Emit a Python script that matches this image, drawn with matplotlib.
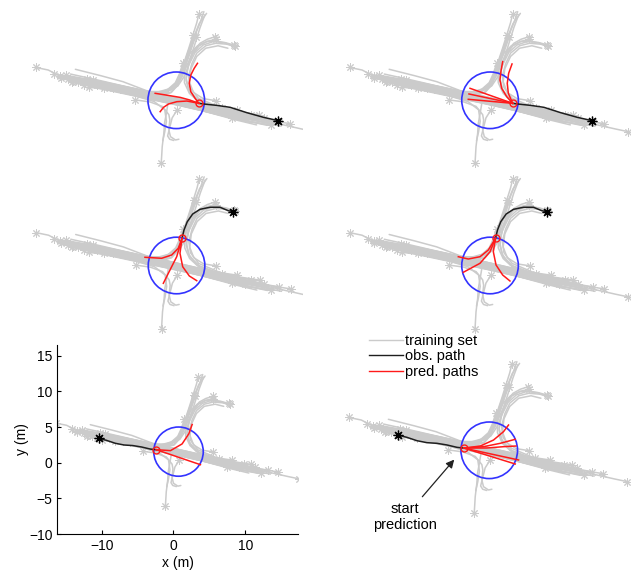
import numpy as np
import matplotlib
matplotlib.use("Agg")
import matplotlib.pyplot as plt
from matplotlib.lines import Line2D
from matplotlib.patches import Circle

# ---- data (metres); the first point of every track is its start (asterisk) ----

TRAIN_EASTBOUND = [
    [(-16.4, 5.55), (-14.9, 5.24), (-13.5, 4.51), (-11.9, 4.02), (-8, 3.2), (-4, 2.35), (0, 1.5), (4, 0.6), (8, -0.4), (11, -1.0), (12.5, -1.3)],
    [(-13.5, 4.5), (-12, 4.2), (-8, 3.4), (-4, 2.55), (0, 1.7), (4, 0.8), (8, -0.2), (11.5, -0.9)],
    [(-12.5, 4.1), (-10, 3.6), (-6, 2.75), (-2, 1.9), (2, 1.05), (6, 0.1), (9.4, -0.6)],
    [(-10.0, 3.15), (-8, 2.9), (-4, 2.1), (0, 1.25), (4, 0.35), (8, -0.7), (11.8, -1.5)],
    [(-8.1, 3.1), (-6, 2.65), (-2, 1.75), (2, 0.85), (6, -0.15), (10, -1.1), (12.2, -1.5)],
    [(-6.1, 2.9), (-4, 2.5), (0, 1.65), (4, 0.75), (8, -0.2), (10.5, -0.75)],
    [(-11.3, 3.8), (-8, 3.15), (-4, 2.3), (0, 1.45), (4, 0.55), (7, -0.2)],
    [(-13.4, 4.3), (-12, 4.0), (-8, 3.25), (-4, 2.4), (0, 1.55), (4, 0.6), (8, -0.5), (10.8, -1.05), (13.5, -1.6)],
    [(-14.2, 4.75), (-12, 4.35), (-8, 3.75), (-4, 2.9), (0, 2.0), (4, 1.0), (8, 0.0), (10.2, -0.45)],
    [(-12.0, 3.75), (-10, 3.35), (-6, 2.5), (-2, 1.6), (2, 0.75), (6, -0.25), (9.8, -1.2)],
    [(-10.6, 3.45), (-8, 2.85), (-4, 2.0), (0, 1.15), (4, 0.25), (8, -0.85), (10.5, -1.45)],
    [(-9.5, 4.0), (-6, 3.3), (-2, 2.4), (2, 1.45), (6, 0.45), (9, -0.15)],
    [(-12.8, 4.6), (-10, 4.1), (-6, 3.2), (-2, 2.3), (2, 1.3), (5, 0.6)],
]

TRAIN_WESTBOUND = [
    [(17.56, -2.28), (16, -1.95), (14, -1.5), (12, -1.05), (8, -0.2), (4, 0.8), (0, 1.8), (-3, 2.75), (-5.8, 3.82), (-8.5, 4.55), (-11.6, 5.33)],
    [(13.2, -1.06), (12, -0.85), (8, -0.05), (4, 0.9), (0, 1.8), (-4, 2.65), (-8, 3.5), (-10.5, 4.05)],
    [(11.4, -0.65), (8, 0.0), (4, 0.95), (0, 1.9), (-4, 2.8), (-7, 3.4), (-9.5, 3.95)],
    [(10.85, -0.24), (8, 0.2), (4, 1.1), (0, 2.0), (-4, 2.85), (-7, 3.45)],
    [(9.1, -0.65), (6, 0.05), (2, 1.0), (-2, 1.9), (-6, 2.75), (-10, 3.55), (-13, 4.3)],
    [(6.3, 0.57), (4, 1.0), (0, 1.9), (-4, 2.7), (-8, 3.55), (-12, 4.35)],
    [(14.6, -1.3), (12, -0.9), (8, -0.1), (4, 0.85), (0, 1.75), (-4, 2.6), (-8, 3.4), (-11, 4.05)],
    [(12.2, -1.45), (10, -1.1), (6, -0.2), (2, 0.8), (-2, 1.7), (-6, 2.6), (-10, 3.4), (-13.8, 4.35)],
    [(9.8, -0.2), (6, 0.6), (2, 1.55), (-2, 2.45), (-6, 3.35), (-9, 4.05), (-12.2, 4.75)],
    [(7.5, -0.6), (4, 0.25), (0, 1.2), (-4, 2.1), (-8, 3.0), (-10.5, 3.5)],
]

TRAIN_TURN_NORTH = [
    [(-9.0, 3.45), (-6, 2.85), (-3, 2.3), (-1.2, 2.1), (0.1, 2.5), (0.9, 3.4), (1.4, 4.6), (1.9, 6.2), (2.4, 7.8), (3.0, 9.5), (3.6, 11.0), (4.07, 12.36)],
    [(-7.0, 3.1), (-4, 2.55), (-1.5, 2.25), (0, 2.5), (0.8, 3.4), (1.3, 4.8), (1.8, 6.4), (2.3, 7.9), (2.9, 9.4), (3.5, 10.9), (4.4, 12.15)],
    [(-10.2, 4.15), (-6, 3.05), (-2.5, 2.35), (-0.6, 2.4), (0.6, 3.3), (1.2, 4.6), (1.7, 6.0), (2.4, 7.3), (3.3, 8.2), (4.4, 8.7), (5.6, 8.8), (6.8, 8.5), (7.9, 8.0)],
    [(8.1, 0.37), (5.5, 0.75), (3.5, 1.5), (2.3, 2.6), (1.9, 4.0), (2.1, 5.6), (2.6, 7.2), (3.1, 8.8), (3.6, 10.4), (4.2, 12.0)],
    [(5.57, 1.5), (4.0, 1.75), (2.8, 2.5), (2.3, 3.8), (2.5, 5.4), (3.2, 6.9), (4.3, 7.9), (5.8, 8.2), (7.0, 7.9)],
]

TRAIN_FROM_NORTH = [
    [(3.46, 12.07), (3.2, 11.0), (2.7, 9.4), (2.2, 7.8), (1.7, 6.3), (1.2, 4.7), (0.5, 3.4), (-0.6, 2.6), (-2.5, 2.25), (-6, 3.0), (-10, 3.8), (-13, 4.4)],
    [(3.05, 9.3), (2.6, 8.0), (2.1, 6.5), (1.6, 5.2), (1.0, 4.0), (0.2, 3.0), (-1, 2.45), (-3, 2.4), (-7, 3.2), (-9.5, 3.75)],
    [(1.5, 6.06), (1.1, 4.8), (0.6, 3.7), (-0.3, 2.9), (-1.8, 2.5), (-5, 2.9), (-8, 3.45)],
    [(2.8, 9.5), (2.4, 8.0), (2.0, 6.5), (1.7, 5.0), (1.7, 3.7), (2.3, 2.4), (3.5, 1.3), (6, 0.35), (9, -0.4), (11.8, -1.0)],
    [(5.49, 8.98), (4.5, 8.75), (3.5, 8.2), (2.7, 7.2), (2.2, 5.8), (1.9, 4.3), (2.2, 2.9), (3.2, 1.6), (5.5, 0.6), (8.5, -0.25), (10.8, -0.75)],
    [(7.81, 8.17), (6.8, 8.4), (5.5, 8.5), (4.3, 8.2), (3.2, 7.3), (2.6, 6.0), (2.2, 4.5), (2.4, 3.1), (3.4, 1.8), (6, 0.7), (9, -0.1)],
    [(7.7, 8.3), (6.6, 8.6), (5.2, 8.7), (4.0, 8.3), (3.0, 7.4), (2.3, 6.0), (1.7, 4.5), (0.9, 3.3), (-0.5, 2.55), (-3, 2.35), (-6, 2.95), (-9, 3.55), (-11, 3.95)],
    [(5.45, 9.3), (4.5, 9.0), (3.6, 8.5), (2.7, 7.4), (2.0, 5.8), (1.4, 4.4), (0.6, 3.3), (-1, 2.6), (-4, 2.65), (-7.5, 3.3)],
]

TRAIN_SOUTH_ARM = [
    [(-1.13, -6.14), (-1.01, -4.1), (-0.81, -2.48), (-0.73, -1.26), (-0.5, 0.0), (-0.3, 1.2), (-0.9, 2.1), (-2.5, 2.3), (-5, 2.8), (-8, 3.4), (-10.8, 4.0)],
    [(-4.3, 1.6), (-2.5, 1.35), (-1.0, 0.8), (-0.2, -0.2), (-0.08, -0.85), (-0.2, -2.07), (0, -2.89), (0.61, -3.29), (1.02, -3.2)],
    [(-11.9, 3.9), (-8, 3.05), (-4.5, 2.15), (-2, 1.4), (-0.7, 0.4), (-0.5, -1.0), (-0.7, -2.3), (-0.95, -3.4)],
    [(0.81, 0.37), (0.2, -0.6), (-0.1, -1.8), (-0.35, -2.8), (-0.1, -3.2), (0.4, -3.35)],
]

# observed paths (start -> current position)
OBS_EAST = [(13.13, -0.93), (11.35, -0.53), (9.31, 0.04), (7.28, 0.69), (5.66, 0.93), (4.03, 1.1), (3.46, 1.18)]
OBS_NORTH = [(7.62, 8.11), (7.01, 8.23), (6.0, 8.65), (4.78, 8.65), (3.56, 8.4), (2.67, 7.83), (2.01, 6.89), (1.61, 5.88), (1.37, 4.87)]
OBS_WEST = [(-10.4, 3.4), (-9.34, 3.13), (-8.12, 2.72), (-6.9, 2.48), (-5.68, 2.4), (-4.46, 2.2), (-3.24, 1.91), (-2.4, 1.82)]

# predicted paths, each continuing from the current position
PRED_EAST_A = [
    [(3.0, 1.79), (2.48, 2.6), (2.28, 3.62), (2.48, 4.63), (2.89, 5.45), (3.29, 6.06)],
    [(2.3, 1.6), (1.2, 1.9), (-0.3, 2.15), (-1.87, 2.4)],
    [(2.0, 1.46), (0.77, 1.38), (-0.24, 1.1), (-0.85, 0.69), (-1.26, 0.16)],
]
PRED_EAST_B = [
    [(-1.74, 3.01)],
    [(-1.87, 2.32)],
    [(-1.95, 1.67)],
    [(2.73, 1.99), (2.12, 3.01), (1.91, 4.02), (2.04, 5.16), (2.24, 6.26)],
    [(2.93, 2.4), (2.8, 3.62), (2.97, 4.84), (3.38, 5.98)],
]
PRED_NORTH_A = [
    [(0.91, 3.65), (0.11, 2.83), (-1.11, 2.43), (-3.15, 2.55)],
    [(0.72, 2.62), (-0.3, 0.6), (-0.91, -0.62)],
    [(1.12, 3.04), (1.45, 1.4), (2.26, 0.27), (3.16, -0.3)],
]
PRED_NORTH_B = [
    [(0.49, 3.44), (-0.52, 2.62), (-1.95, 2.34), (-3.17, 2.62)],
    [(0.7, 3.23), (-0.52, 1.82), (-2.56, 0.72)],
    [(1.1, 3.23), (1.43, 1.61), (2.24, 0.39), (3.13, -0.34)],
]
PRED_WEST_A = [
    [(-0.42, 1.69), (1.2, 2.63), (2.13, 4.04), (2.6, 5.35)],
    [(3.75, -0.28)],
]
PRED_WEST_B = [
    [(-0.4, 2.07), (1.22, 2.8), (2.44, 3.82), (3.05, 4.63)],
    [(0.0, 1.99), (2.04, 2.4), (3.87, 2.89)],
    [(0.41, 1.83), (2.44, 1.99), (3.95, 2.07)],
    [(4.27, 0.37)],
    [(3.87, -0.12)],
]

ZONE_CENTER = (0.7, 1.55)
ZONE_RADIUS = 3.45

GRAY = "#cbcbcb"
RED = "#ff1a1a"
BLUE = "#3333ff"
DARK = "#1e1e1e"
ASTER = (8, 2, 0)

FIG_W, FIG_H = 631, 576
PX_PER_M = 8.2


def draw_scene(ax, obs, preds):
    """Training tracks, search circle, observed path and predictions."""
    for group in (TRAIN_EASTBOUND, TRAIN_WESTBOUND, TRAIN_TURN_NORTH,
                  TRAIN_FROM_NORTH, TRAIN_SOUTH_ARM):
        for track in group:
            xy = np.array(track)
            ax.plot(xy[:, 0], xy[:, 1], color=GRAY, lw=1.1, zorder=1,
                    solid_capstyle="round")
            ax.plot(xy[0, 0], xy[0, 1], marker=ASTER, color=GRAY,
                    ms=6, mew=0.7, zorder=1)

    ax.add_patch(Circle(ZONE_CENTER, ZONE_RADIUS, fill=False,
                        ec=BLUE, lw=1.2, zorder=3))

    obs = np.array(obs)
    ax.plot(obs[:, 0], obs[:, 1], color=DARK, lw=1.1, zorder=4)
    ax.plot(obs[0, 0], obs[0, 1], marker=ASTER, color="black",
            ms=7, mew=0.9, zorder=4)

    for path in preds:
        xy = np.vstack([obs[-1], np.array(path)])
        ax.plot(xy[:, 0], xy[:, 1], color=RED, lw=1.1, zorder=5)
    ax.plot(obs[-1, 0], obs[-1, 1], marker="o", mfc="none", mec=RED,
            ms=5, mew=1.0, zorder=6)


def scene_axes(fig, origin, xpx, ypx):
    """Axes without decoration whose data scale is PX_PER_M, placed by pixels."""
    ox, oy = origin
    x0, x1 = xpx
    y0, y1 = ypx
    ax = fig.add_axes([x0 / FIG_W, 1 - y1 / FIG_H,
                       (x1 - x0) / FIG_W, (y1 - y0) / FIG_H])
    ax.set_xlim((x0 - ox) / PX_PER_M, (x1 - ox) / PX_PER_M)
    ax.set_ylim((oy - y1) / PX_PER_M, (oy - y0) / PX_PER_M)
    ax.set_axis_off()
    ax.patch.set_visible(False)
    return ax


def main():
    plt.rcParams["font.family"] = ["Liberation Sans", "DejaVu Sans"]
    plt.rcParams["font.size"] = 10

    fig = plt.figure(figsize=(FIG_W / 100, FIG_H / 100), dpi=100)

    ax_tl = scene_axes(fig, (170.5, 113), (20, 303), (0, 176))
    draw_scene(ax_tl, OBS_EAST, PRED_EAST_A)
    ax_tr = scene_axes(fig, (484.3, 113), (330, 634), (0, 176))
    draw_scene(ax_tr, OBS_EAST, PRED_EAST_B)

    ax_ml = scene_axes(fig, (170.8, 278.2), (20, 303), (166, 342))
    draw_scene(ax_ml, OBS_NORTH, PRED_NORTH_A)
    ax_mr = scene_axes(fig, (484.3, 278.2), (330, 634), (166, 342))
    draw_scene(ax_mr, OBS_NORTH, PRED_NORTH_B)

    # the only panel with visible axes
    ax_bl = fig.add_axes([57.3 / FIG_W, 42 / FIG_H, 241 / FIG_W, 189 / FIG_H])
    draw_scene(ax_bl, OBS_WEST, PRED_WEST_A)
    ax_bl.set_xlim(-16.2, 17.4)
    ax_bl.set_ylim(-10, 16.5)
    ax_bl.set_xticks([-10, 0, 10])
    ax_bl.set_yticks([-10, -5, 0, 5, 10, 15])
    ax_bl.spines["top"].set_visible(False)
    ax_bl.spines["right"].set_visible(False)
    ax_bl.tick_params(direction="in", length=3, labelsize=10)
    ax_bl.set_xlabel("x (m)", fontsize=10, labelpad=2)
    ax_bl.set_ylabel("y (m)", fontsize=10, labelpad=0)

    ax_br = scene_axes(fig, (483.5, 463), (330, 634), (350, 530))
    draw_scene(ax_br, OBS_WEST, PRED_WEST_B)

    handles = [Line2D([], [], color=GRAY, lw=1.0),
               Line2D([], [], color=DARK, lw=1.0),
               Line2D([], [], color=RED, lw=1.0)]
    ax_br.legend(handles, ["training set", "obs. path", "pred. paths"],
                 loc="upper left", bbox_to_anchor=(369 / FIG_W, 1 - 334 / FIG_H),
                 bbox_transform=fig.transFigure, frameon=False,
                 borderpad=0, borderaxespad=0, handlelength=2.3,
                 handletextpad=0.2, labelspacing=0.1, fontsize=10.5)

    start = OBS_WEST[-1]
    ax_br.annotate("start\nprediction",
                   xy=(start[0] - 0.95, start[1] - 1.15),
                   xytext=(-9.55, -6.55), ha="center", va="center",
                   fontsize=10.5, annotation_clip=False,
                   arrowprops=dict(arrowstyle="-|>", color="#222222",
                                   lw=0.9, mutation_scale=12))

    fig.savefig("out.png", dpi=100)
    plt.close(fig)


if __name__ == "__main__":
    main()
